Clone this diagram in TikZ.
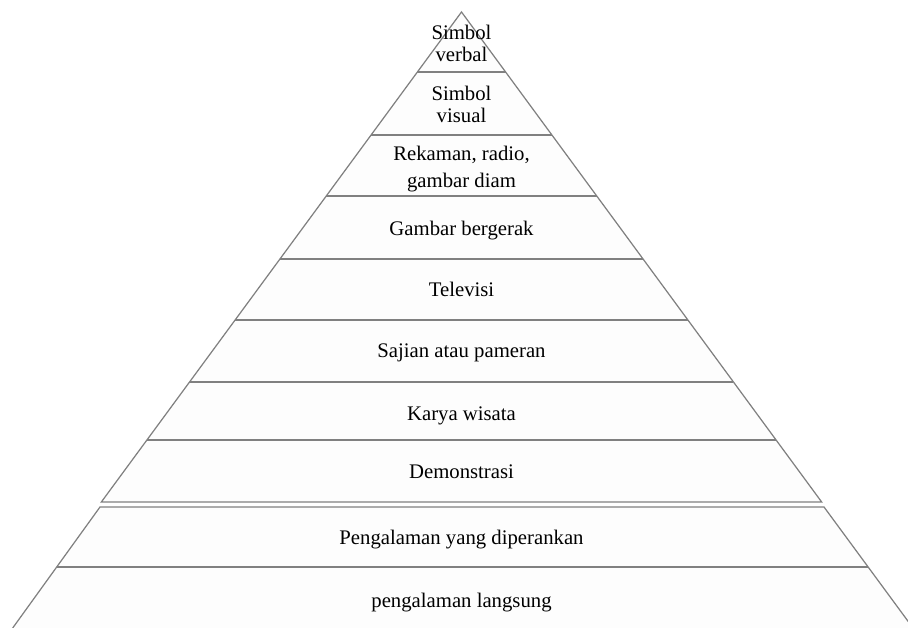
\documentclass[tikz,border=0pt]{standalone}
\usepackage{fontspec}
\setmainfont{Liberation Serif}
\usepackage{tikz}

\begin{document}
\begin{tikzpicture}[every node/.style={font=\fontsize{11.8}{12.5}\selectfont, align=center, inner sep=0pt, outer sep=0pt},
  layer/.style={draw={rgb,255:red,128;green,128;blue,128}, line width=0.7pt, line join=miter}]
\useasboundingbox (0,0) rectangle (18.16,12.56);

\fill[fill={rgb,255:red,253;green,253;blue,253}] (9.23,12.32) -- (2.027,2.52) -- (16.433,2.52) -- cycle;
\fill[fill={rgb,255:red,253;green,253;blue,253}] (2.00,2.42) -- (16.48,2.42) -- (18.26,0) -- (0.254,0) -- cycle;

\draw[layer] (9.23,12.32) -- (2.027,2.52) -- (16.433,2.52) -- cycle;
\draw[layer] (8.348,11.12) -- (10.112,11.12);
\draw[layer] (7.422,9.86) -- (11.038,9.86);
\draw[layer] (6.525,8.64) -- (11.935,8.64);
\draw[layer] (5.599,7.38) -- (12.861,7.38);
\draw[layer] (4.702,6.16) -- (13.758,6.16);
\draw[layer] (3.791,4.92) -- (14.669,4.92);
\draw[layer] (2.938,3.76) -- (15.522,3.76);

\draw[layer] (0.254,0) -- (2.00,2.42) -- (16.48,2.42) -- (18.26,0);
\draw[layer] (1.136,1.22) -- (17.36,1.22);

\node (verbal) at (9.23,11.70) {Simbol\\verbal};
\node (visual) at (9.23,10.48) {Simbol\\visual};
\node (rekaman) at (9.23,9.18) {Rekaman, radio,\\[2.8pt]gambar diam};
\node[anchor=base] (bergerak) at (9.23,7.846) {Gambar bergerak};
\node[anchor=base] (televisi) at (9.23,6.626) {Televisi};
\node[anchor=base] (sajian) at (9.23,5.40) {Sajian atau pameran};
\node[anchor=base] (karya) at (9.23,4.14) {Karya wisata};
\node[anchor=base] (demonstrasi) at (9.23,2.98) {Demonstrasi};
\node[anchor=base] (diperankan) at (9.23,1.66) {Pengalaman yang diperankan};
\node[anchor=base] (langsung) at (9.23,0.406) {pengalaman langsung};
\end{tikzpicture}
\end{document}
